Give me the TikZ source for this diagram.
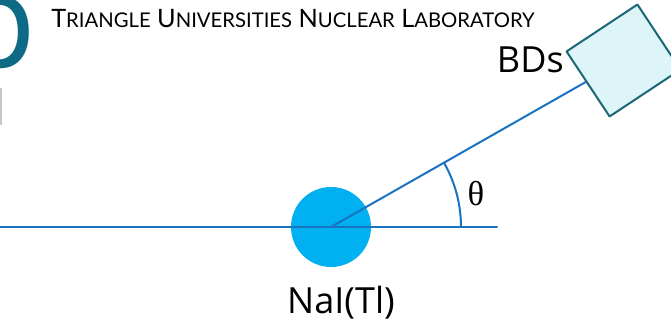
\documentclass[tikz,border=0pt]{standalone}
\usepackage{fontspec}
\setmainfont{Open Sans}
\newfontfamily\hdfont{Lato}
\newfontfamily\thfont{Liberation Serif}
\newcommand\smc[1]{{\fontsize{15.2}{15.2}\selectfont #1}}
\definecolor{rayblue}{HTML}{1A72C2}
\definecolor{naicyan}{HTML}{00B0F0}
\definecolor{bdfill}{HTML}{DDF4F8}
\definecolor{bdedge}{HTML}{1B6778}
\definecolor{titleteal}{HTML}{0F6A86}
\begin{document}
		\begin{tikzpicture}[x=0.75pt,y=0.75pt,line join=round,line cap=round]
			\tikzset{every node/.style={inner sep=0pt},
				ray/.style={draw=rayblue,line width=1.5pt},
				crystal/.style={circle,fill=naicyan,minimum size=60pt},
				detector/.style={draw=bdedge,fill=bdfill,line width=1.5pt,rotate=33.5,minimum width=63.75pt,minimum height=58.5pt},
				lbl/.style={font=\fontsize{27}{30}\selectfont}}
			\def \arcr{130} \def \thang{29.5}
			\useasboundingbox (0,0) rectangle (671,328);
			\node[anchor=base east,text=titleteal,font=\fontsize{98}{100}\selectfont] (tp) at (37,260) {p};
			\fill[gray!45] (0,203) rectangle (2,240);
			\node[font=\hdfont\fontsize{19}{19}\selectfont] (hd) at (293,309) {T\smc{RIANGLE} U\smc{NIVERSITIES} N\smc{UCLEAR} L\smc{ABORATORY}};
			\coordinate (l0) at (0,101);
			\coordinate (l1) at (497,101);
			\node[crystal] (nai) at (331,101) {};
			\draw[ray] (l0) -- (l1);
			\node[detector] (bd) at (623.5,267.5) {};
			\draw[ray] (nai.center) -- (bd);
			\draw[ray] (nai.center) ++(\arcr,0) arc (0:\thang:\arcr);
			\node[font=\thfont\fontsize{26}{28}\selectfont] (th) at (476,134) {θ};
			\node[lbl,anchor=east] (bdl) at (564,268) {BDs};
			\node[lbl] (nail) at (341,25) {NaI(Tl)};
		\end{tikzpicture}
\end{document}
